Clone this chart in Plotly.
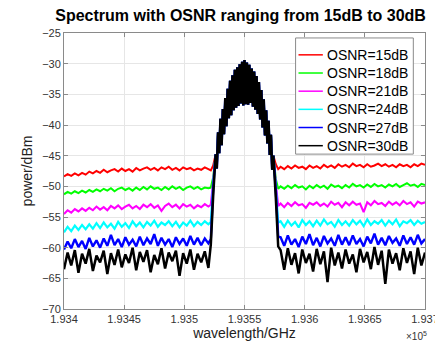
import plotly.graph_objects as go

# x grids (GHz)
x_left = list(range(193400, 193521, 3)) + [193522, 193524]
x_core = list(range(193526, 193575))
x_right = [193576, 193578] + list(range(193580, 193701, 3))

# shared signal core (d = -24 .. 24 GHz around 193550)
core = [
    -44.8, -47.1, -41.2, -44.6, -39.0, -43.3, -37.4, -41.5, -35.6, -40.2,
    -34.1, -38.9, -32.8, -38.4, -31.9, -37.6, -31.0, -37.2, -30.6, -36.9,
    -30.1, -36.5, -29.7, -36.8, -29.4, -36.6, -29.8, -36.7, -30.2, -36.4,
    -30.8, -37.0, -31.3, -37.5, -32.0, -38.2, -33.0, -39.1, -34.3, -40.4,
    -35.8, -41.7, -37.6, -43.0, -39.3, -44.9, -41.6, -47.3, -45.0,
]

red_left = [
    -48.4, -48.0, -48.3, -47.9, -48.2, -47.8, -48.1, -47.6, -47.9, -47.5,
    -47.8, -47.3, -47.7, -47.4, -47.2, -47.6, -47.1, -47.5, -47.2, -47.6,
    -47.0, -47.4, -47.1, -46.9, -47.3, -47.0, -47.4, -46.9, -47.2, -46.8,
    -47.3, -47.0, -47.4, -46.9, -47.2, -47.0, -47.4, -47.1, -47.3, -46.9,
    -47.2, -47.4, -46.6,
]
red_right = [
    -46.4, -47.2,
    -46.8, -47.2, -46.7, -47.1, -46.6, -47.0, -46.8, -47.2, -46.6, -47.0,
    -46.7, -47.1, -46.5, -46.9, -46.6, -47.0, -46.4, -46.8, -46.5, -46.9,
    -46.3, -46.7, -46.5, -46.9, -46.4, -46.8, -46.6, -46.3, -46.7, -46.4,
    -46.8, -46.5, -46.9, -46.4, -46.7, -46.5, -46.9, -46.4, -46.7, -46.3,
    -46.5,
]

green_left = [
    -51.3, -50.9, -51.2, -50.8, -51.1, -50.7, -51.0, -50.6, -50.9, -50.5,
    -50.8, -50.4, -50.7, -50.3, -50.8, -50.4, -50.2, -50.6, -50.3, -50.7,
    -50.2, -50.6, -50.1, -50.5, -50.0, -50.4, -50.2, -50.6, -50.1, -50.5,
    -50.0, -50.4, -50.1, -50.6, -50.2, -50.0, -50.4, -50.1, -50.5, -50.2,
    -50.3, -50.2, -48.5,
]
green_right = [
    -48.8, -50.4,
    -50.0, -50.4, -49.9, -50.3, -49.8, -50.2, -50.0, -50.5, -49.9, -50.3,
    -49.8, -50.2, -49.9, -50.4, -49.7, -50.1, -49.9, -50.3, -49.8, -50.2,
    -49.6, -50.0, -49.8, -50.2, -49.7, -50.1, -49.6, -50.0, -49.8, -50.2,
    -49.7, -50.0, -49.6, -50.1, -49.8, -49.5, -49.9, -49.7, -50.1, -49.6,
    -49.8,
]

magenta_left = [
    -54.5, -53.9, -54.3, -53.7, -54.1, -53.6, -54.0, -53.5, -53.9, -53.3,
    -53.8, -53.4, -53.9, -53.2, -53.6, -53.1, -53.7, -53.3, -53.0, -53.6,
    -53.2, -53.7, -53.0, -53.4, -52.9, -53.5, -53.1, -54.0, -53.2, -52.8,
    -53.4, -53.0, -53.6, -52.9, -53.3, -53.0, -53.6, -53.1, -53.4, -52.9,
    -53.3, -53.0, -49.2,
]
magenta_right = [
    -49.6, -53.2,
    -52.8, -53.4, -52.7, -53.2, -52.6, -53.1, -52.9, -53.5, -52.7, -53.0,
    -52.6, -53.2, -52.8, -53.3, -52.5, -53.0, -52.7, -53.4, -52.6, -53.1,
    -52.5, -53.0, -52.8, -54.2, -52.6, -53.1, -52.4, -52.9, -52.7, -53.2,
    -52.5, -53.0, -52.6, -53.1, -52.4, -52.9, -52.6, -53.3, -52.5, -52.8,
    -52.6,
]

cyan_left = [
    -57.5, -56.6, -57.3, -56.4, -57.1, -56.3, -57.0, -56.2, -56.9, -56.0,
    -56.8, -55.9, -56.7, -56.1, -56.9, -55.8, -56.6, -56.0, -56.8, -55.7,
    -56.5, -55.9, -56.7, -55.8, -56.4, -55.6, -56.6, -55.9, -56.3, -55.7,
    -56.5, -55.8, -56.7, -55.9, -56.4, -55.6, -56.5, -55.8, -56.3, -55.7,
    -56.2, -55.8, -49.8,
]
cyan_right = [
    -50.3, -55.9,
    -55.7, -56.6, -55.6, -56.4, -55.8, -56.7, -55.5, -56.3, -55.7, -56.5,
    -55.6, -56.4, -55.4, -56.2, -55.8, -56.6, -55.5, -56.3, -55.7, -56.4,
    -55.5, -56.2, -55.6, -56.5, -55.4, -56.3, -55.7, -56.1, -55.5, -56.4,
    -55.6, -56.2, -55.4, -56.5, -55.7, -56.0, -55.5, -56.3, -55.6, -56.1,
    -55.8,
]

blue_left = [
    -60.3, -59.0, -60.1, -58.6, -59.9, -58.9, -60.2, -58.4, -59.8, -58.8,
    -60.0, -58.5, -59.7, -57.9, -59.6, -58.6, -59.9, -58.3, -59.5, -58.7,
    -59.8, -58.2, -59.6, -58.5, -59.4, -57.8, -59.7, -58.4, -59.5, -58.6,
    -59.9, -58.3, -59.4, -58.5, -59.7, -58.1, -59.5, -58.4, -59.6, -58.5,
    -59.3, -58.6, -50.2,
]
blue_right = [
    -50.5, -58.2,
    -58.3, -59.7, -58.0, -59.5, -58.6, -59.9, -58.2, -59.4, -57.8, -59.6,
    -58.4, -59.8, -58.1, -59.3, -58.5, -59.7, -57.9, -59.5, -58.3, -59.6,
    -58.0, -59.4, -58.6, -59.8, -58.2, -59.3, -57.7, -59.5, -58.4, -59.6,
    -58.1, -59.2, -58.5, -59.7, -58.0, -59.4, -58.3, -59.5, -57.9, -59.3,
    -58.6,
]

black_left = [
    -63.5, -60.8, -62.9, -60.4, -64.1, -61.0, -62.6, -60.2, -63.8, -61.3,
    -62.4, -60.5, -64.3, -60.9, -62.8, -60.3, -63.2, -61.1, -62.5, -60.0,
    -63.7, -60.7, -62.3, -60.4, -64.0, -61.2, -62.7, -60.1, -63.4, -60.8,
    -62.2, -60.5, -64.6, -60.9, -62.6, -60.3, -63.6, -61.0, -62.4, -60.6,
    -63.3, -59.5, -51.5,
]
black_right = [
    -51.8, -59.8,
    -60.4, -63.6, -60.1, -62.8, -60.9, -64.2, -60.3, -62.5, -61.0, -63.9,
    -60.2, -62.7, -60.6, -65.6, -60.0, -62.9, -60.8, -63.4, -60.3, -62.6,
    -61.1, -64.0, -60.2, -62.4, -60.7, -63.5, -59.9, -62.8, -60.5, -65.9,
    -60.3, -62.6, -60.9, -63.7, -60.1, -62.5, -60.6, -64.3, -60.0, -62.9,
    -60.8,
]

series_names = ["OSNR=15dB", "OSNR=18dB", "OSNR=21dB", "OSNR=24dB", "OSNR=27dB", "OSNR=30dB"]
series_left = [red_left, green_left, magenta_left, cyan_left, blue_left, black_left]
series_right = [red_right, green_right, magenta_right, cyan_right, blue_right, black_right]
colors = ["#FF0000", "#00FF00", "#FF00FF", "#00FFFF", "#0000FF", "#000000"]
widths = [2.0, 2.0, 2.1, 2.2, 2.4, 2.5]

x_ticks = [193400, 193450, 193500, 193550, 193600, 193650, 193700]
x_ticktext = ["1.934", "1.9345", "1.935", "1.9355", "1.936", "1.9365", "1.937"]
y_ticks = [-70, -65, -60, -55, -50, -45, -40, -35, -30, -25]

x_all = x_left + x_core + x_right
fig = go.Figure()
for name, yl, yr, c, w in zip(series_names, series_left, series_right, colors, widths):
    assert len(yl) == len(x_left) and len(yr) == len(x_right)
    fig.add_trace(go.Scatter(x=x_all, y=yl + core + yr, mode="lines", name=name,
                             showlegend=False,
                             line=dict(color=c, width=w, simplify=False)))

font_family = "Arial, Liberation Sans, Helvetica, sans-serif"
axis_common = dict(showgrid=True, gridcolor="#e6e6e6", gridwidth=1,
                   showline=True, linecolor="#8a8a8a", linewidth=1, mirror="ticks",
                   ticks="inside", ticklen=4, tickcolor="#8a8a8a",
                   tickfont=dict(size=11, color="#333333", family=font_family),
                   zeroline=False)

# plot-area geometry in pixels (for placing the legend box)
L, R, T, B = 56, 427, 25, 303
W, H = R - L, B - T


def px(xp):
    return (xp - L) / W


def py(yp):
    return (B - yp) / H


fig.update_layout(
    width=443, height=341,
    margin=dict(l=L, r=443 - R, t=T, b=341 - B),
    paper_bgcolor="white", plot_bgcolor="white",
    title=dict(text="<b>Spectrum with OSNR ranging from 15dB to 30dB</b>",
               x=0.525, xanchor="center", y=0.978, yanchor="middle",
               font=dict(size=16, color="#000000", family=font_family)),
    xaxis=dict(range=[193400, 193700], tickvals=x_ticks, ticktext=x_ticktext,
               title=dict(text="wavelength/GHz", standoff=2,
                          font=dict(size=14, color="#222222", family=font_family)),
               **axis_common),
    yaxis=dict(range=[-70, -25], tickvals=y_ticks,
               title=dict(text="power/dBm", standoff=6,
                          font=dict(size=14, color="#222222", family=font_family)),
               **axis_common),
    showlegend=False,
)

# manual legend (MATLAB-style compact box)
shapes = [dict(type="rect", xref="paper", yref="paper",
               x0=px(294), x1=px(415), y0=py(147), y1=py(30),
               line=dict(color="#8a8a8a", width=1), fillcolor="white", layer="above")]
annotations = []
row_y = [47, 65.3, 83.6, 101.9, 120.2, 138.5]
for name, c, ry in zip(series_names, colors, row_y):
    shapes.append(dict(type="line", xref="paper", yref="paper",
                       x0=px(297), x1=px(322), y0=py(ry), y1=py(ry),
                       line=dict(color=c, width=1.5), layer="above"))
    annotations.append(dict(x=px(324), y=py(ry), xref="paper", yref="paper",
                            text=name, showarrow=False, xanchor="left", yanchor="middle",
                            font=dict(size=14, color="#000000", family=font_family)))

annotations.append(dict(x=1.01, y=py(330), xref="paper", yref="paper",
                        text="×10<sup>5</sup>", showarrow=False,
                        xanchor="right", yanchor="middle",
                        font=dict(size=10, color="#333333", family=font_family)))

fig.update_layout(shapes=shapes, annotations=annotations)

fig.write_html("out.html")
